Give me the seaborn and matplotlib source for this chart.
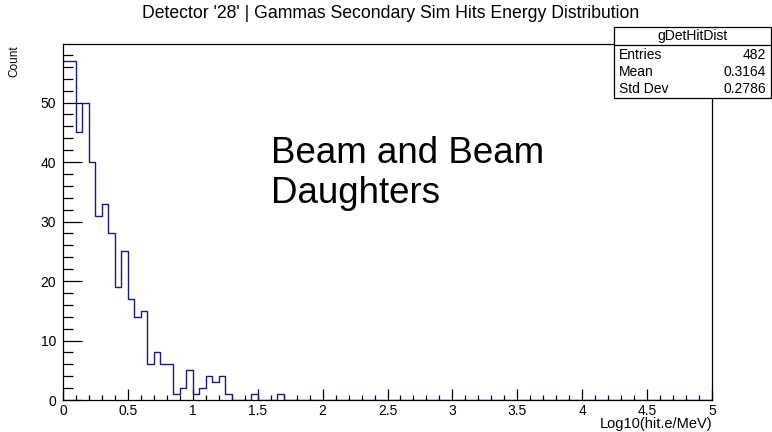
import numpy as np
import pandas as pd
import matplotlib
matplotlib.use("Agg")
import matplotlib.pyplot as plt
import matplotlib.ticker as mticker
from matplotlib.patches import Rectangle
from matplotlib.lines import Line2D
import seaborn as sns

# histogram definition (ROOT style: 100 bins from 0 to 5)
n_bins = 100
x_min, x_max = 0.0, 5.0

# counts of the first 34 bins (bin width 0.05), the rest are empty
counts = [57, 57, 45, 50, 40, 31, 33, 28, 19, 25,
          17, 14, 15, 6, 8, 6, 6, 1, 2, 5,
          1, 2, 4, 3, 4, 1, 0, 0, 0, 1,
          0, 0, 0, 1]

title = "Detector '28' | Gammas Secondary Sim Hits Energy Distribution"
stat_name = "gDetHitDist"
stat_labels = ["Entries", "Mean", "Std Dev"]
stat_values = ["482", "0.3164", "0.2786"]
note_lines = ["Beam and Beam", "Daughters"]

sns.set_style("white")
plt.rcParams['font.family'] = ['Liberation Sans', 'DejaVu Sans']
plt.rcParams['text.color'] = 'black'
plt.rcParams['xtick.color'] = 'black'
plt.rcParams['ytick.color'] = 'black'

W, H = 772, 432
fig = plt.figure(figsize=(W / 100, H / 100), dpi=100)

def fx(px):
    return px / W

def fy(py):
    return 1 - py / H

ax_l, ax_r, ax_t, ax_b = 63, 712, 44, 400
ax = fig.add_axes([fx(ax_l), fy(ax_b), fx(ax_r - ax_l), (ax_b - ax_t) / H])

edges = np.linspace(x_min, x_max, n_bins + 1)
df = pd.DataFrame({"energy": edges[:len(counts)] + (edges[1] - edges[0]) / 2,
                   "n": counts})

sns.histplot(data=df, x="energy", weights="n", bins=list(edges), element="step",
             fill=False, color="#1a1a80", linewidth=1.0, ax=ax)

ax.set_xlim(x_min, x_max)
ax.set_ylim(0, max(counts) * 1.05)

ax.xaxis.set_major_locator(mticker.MultipleLocator(0.5))
ax.xaxis.set_minor_locator(mticker.MultipleLocator(0.1))
ax.yaxis.set_major_locator(mticker.MultipleLocator(10))
ax.yaxis.set_minor_locator(mticker.MultipleLocator(2))
ax.xaxis.set_major_formatter(mticker.FuncFormatter(lambda v, p: f"{v:g}"))

ax.tick_params(axis="x", which="major", direction="in", length=7.6, width=0.9,
               labelsize=10, pad=3, bottom=True, top=False)
ax.tick_params(axis="x", which="minor", direction="in", length=3.8, width=0.9,
               bottom=True, top=False)
ax.tick_params(axis="y", which="major", direction="in", length=14, width=0.9,
               labelsize=10, pad=5, left=True, right=False)
ax.tick_params(axis="y", which="minor", direction="in", length=7, width=0.9,
               left=True, right=False)

for s in ax.spines.values():
    s.set_color("black")
    s.set_linewidth(0.9)

ax.set_xlabel("")
ax.set_ylabel("")
fig.text(fx(ax_r), fy(424), "Log10(hit.e/MeV)", ha="right", va="center",
         fontsize=10.5)
fig.text(fx(14), fy(45), "Count", ha="center", va="top", rotation=90,
         fontsize=8.5)

fig.text(fx(391), fy(14), title, ha="center", va="center", fontsize=12.7)

# stats box
bx_l, bx_r, bx_t, bx_b, bx_div = 614, 771, 27, 98, 45
fig.add_artist(Rectangle((fx(bx_l), fy(bx_b)), fx(bx_r - bx_l), (bx_b - bx_t) / H,
                         transform=fig.transFigure, facecolor="white",
                         edgecolor="black", linewidth=0.9, zorder=5))
fig.add_artist(Line2D([fx(bx_l), fx(bx_r)], [fy(bx_div), fy(bx_div)],
                      transform=fig.transFigure, color="black", linewidth=0.9,
                      zorder=6))
fig.text(fx((bx_l + bx_r) / 2), fy(36), stat_name, ha="center", va="center",
         fontsize=10, zorder=7)
row_y = [55, 72, 89]
for lab, val, yy in zip(stat_labels, stat_values, row_y):
    fig.text(fx(bx_l + 5), fy(yy), lab, ha="left", va="center", fontsize=10,
             zorder=7)
    fig.text(fx(bx_r - 5), fy(yy), val, ha="right", va="center", fontsize=10,
             zorder=7)

# annotation
for line, yb in zip(note_lines, [163, 203]):
    fig.text(fx(271), fy(yb), line, ha="left", va="baseline", fontsize=26.5)

fig.savefig("out.png", dpi=100)
